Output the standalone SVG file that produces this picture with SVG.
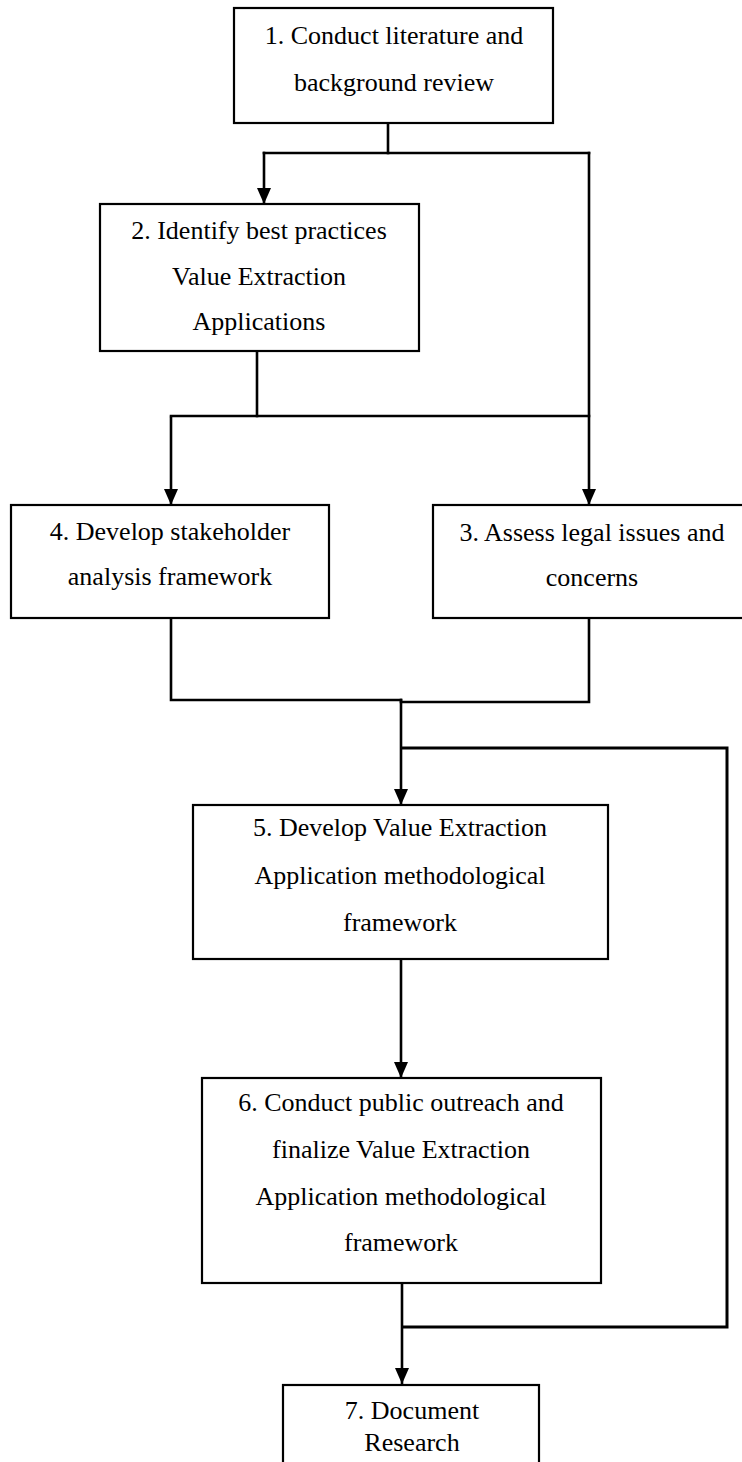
<svg xmlns="http://www.w3.org/2000/svg" width="742" height="1462" viewBox="0 0 742 1462">
<style>
.box{fill:#fff;stroke:#000;stroke-width:2.2}
.t{font-family:"Liberation Serif","Times New Roman",serif;font-size:26px;fill:#000;text-anchor:middle}
.c{fill:none;stroke:#000;stroke-width:2.6;stroke-linecap:square}
.loop{fill:none;stroke:#000;stroke-width:3}
</style>
<defs>
<marker id="ah" viewBox="0 0 16 14" refX="16" refY="7" markerWidth="16" markerHeight="14" markerUnits="userSpaceOnUse" orient="auto">
<path d="M0,0 L16,7 L0,14 z" fill="#000"/>
</marker>
</defs>
<rect width="742" height="1462" fill="#fff"/>
<g id="connectors">
<path class="c" d="M388,123 V153"/>
<path class="c" d="M264,153 H589"/>
<path class="c" d="M264,153 V204" marker-end="url(#ah)"/>
<path class="c" d="M589,153 V505" marker-end="url(#ah)"/>
<path class="c" d="M257,351 V416"/>
<path class="c" d="M171,416 H589"/>
<path class="c" d="M171,418 V505" marker-end="url(#ah)"/>
<path class="c" d="M171,618 V700 H401"/>
<path class="c" d="M589,618 V702 H401"/>
<path class="c" d="M401,700 V805" marker-end="url(#ah)"/>
<path class="loop" d="M401,748 H727 V1327 H402"/>
<path class="c" d="M401,959 V1078" marker-end="url(#ah)"/>
<path class="c" d="M402,1283 V1384" marker-end="url(#ah)"/>
</g>
<g id="node1">
<rect class="box" x="234" y="8" width="319" height="115"/>
<text class="t" x="394" y="44">1. Conduct literature and</text>
<text class="t" x="394" y="91">background review</text>
</g>
<g id="node2">
<rect class="box" x="100" y="204" width="319" height="147"/>
<text class="t" x="259" y="239">2. Identify best practices</text>
<text class="t" x="259" y="285">Value Extraction</text>
<text class="t" x="259" y="330">Applications</text>
</g>
<g id="node4">
<rect class="box" x="11" y="505" width="318" height="113"/>
<text class="t" x="170" y="540">4. Develop stakeholder</text>
<text class="t" x="170" y="585">analysis framework</text>
</g>
<g id="node3">
<rect class="box" x="433" y="505" width="318" height="113"/>
<text class="t" x="592" y="541">3. Assess legal issues and</text>
<text class="t" x="592" y="586">concerns</text>
</g>
<g id="node5">
<rect class="box" x="193" y="805" width="415" height="154"/>
<text class="t" x="400" y="836">5. Develop Value Extraction</text>
<text class="t" x="400" y="884">Application methodological</text>
<text class="t" x="400" y="931">framework</text>
</g>
<g id="node6">
<rect class="box" x="202" y="1078" width="399" height="205"/>
<text class="t" x="401" y="1111">6. Conduct public outreach and</text>
<text class="t" x="401" y="1158">finalize Value Extraction</text>
<text class="t" x="401" y="1205">Application methodological</text>
<text class="t" x="401" y="1251">framework</text>
</g>
<g id="node7">
<rect class="box" x="283" y="1385" width="256" height="90"/>
<text class="t" x="412" y="1419">7. Document</text>
<text class="t" x="412" y="1451">Research</text>
</g>
</svg>
